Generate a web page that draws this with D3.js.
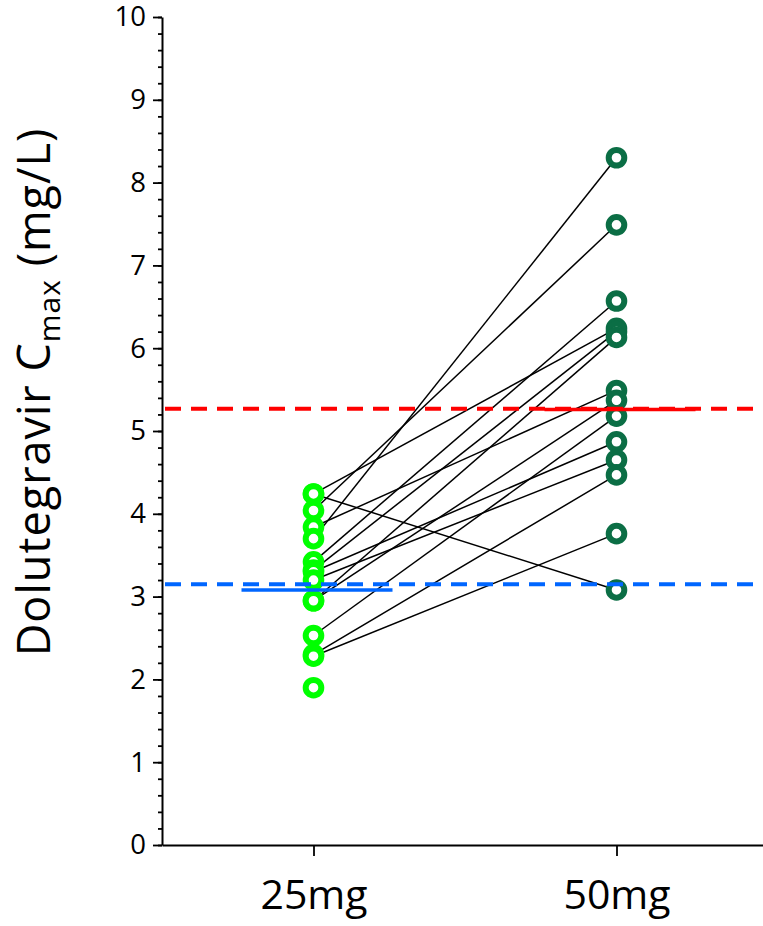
<!DOCTYPE html>
<html>
<head>
<meta charset="utf-8">
<script src="https://cdn.jsdelivr.net/npm/d3@7"></script>
<style>
  body { margin: 0; background: #fff; }
  svg { display: block; font-family: "Open Sans", sans-serif; }
</style>
</head>
<body>
<div id="chart"></div>
<script>
// doses on the x axis
const doses = ["25mg", "50mg"];

// paired Cmax per subject (mg/L); null = no 50mg value
const cmax25 = [4.24, 4.24, 4.04, 3.84, 3.70, 3.42, 3.32, 3.30, 3.20, 2.95, 2.95, 2.53, 2.30, 2.28, 1.90];
const cmax50 = [3.08, 6.24, 7.49, 5.49, 8.30, 6.57, 6.20, 4.87, 4.65, 6.13, 5.37, 5.18, 4.47, 3.76, null];

// short solid lines at each dose, and long dashed reference lines
const meanValues = [3.08, 5.26];
const meanColors = ["#0066ff", "#ff0000"];
const refValues = [3.15, 5.27];

const yTicks = d3.range(0, 11);
const pointColors = ["#00ff00", "#0b6e45"];

const width = 763;
const height = 926;
const margin = {top: 17, left: 162, right: 0, bottom: 81};

const svg = d3.select("#chart")
  .append("svg")
  .attr("width", width)
  .attr("height", height);

/* scales */
const x = d3.scalePoint()
  .domain(doses)
  .range([margin.left, 768])
  .padding(0.5);

const y = d3.scaleLinear()
  .domain([0, 10])
  .range([height - margin.bottom, margin.top]);

/* connecting lines */
const pairs = cmax25.map((v, i) => ({a: v, b: cmax50[i]}));

svg.append("g")
  .selectAll("line")
  .data(pairs.filter(d => d.b !== null))
  .enter()
  .append("line")
  .attr("x1", x("25mg"))
  .attr("y1", d => y(d.a))
  .attr("x2", x("50mg"))
  .attr("y2", d => y(d.b))
  .attr("stroke", "#000")
  .attr("stroke-width", 1.5);

/* points */
const pts = [];
cmax25.forEach(v => pts.push({dose: "25mg", v: v}));
cmax50.forEach(v => { if (v !== null) pts.push({dose: "50mg", v: v}); });

svg.append("g")
  .selectAll("circle")
  .data(pts)
  .enter()
  .append("circle")
  .attr("cx", d => x(d.dose))
  .attr("cy", d => y(d.v))
  .attr("r", 7.8)
  .attr("fill", "#fff")
  .attr("stroke", d => d.dose === "25mg" ? pointColors[0] : pointColors[1])
  .attr("stroke-width", 6);

/* dashed reference lines */
svg.append("g")
  .selectAll("line")
  .data(refValues)
  .enter()
  .append("line")
  .attr("x1", margin.left + 3)
  .attr("x2", width)
  .attr("y1", d => y(d))
  .attr("y2", d => y(d))
  .attr("stroke", (d, i) => meanColors[i])
  .attr("stroke-width", 4)
  .attr("stroke-dasharray", "16,10");

/* solid mean lines */
svg.append("g")
  .selectAll("line")
  .data(meanValues)
  .enter()
  .append("line")
  .attr("x1", (d, i) => x(doses[i]) - 72)
  .attr("x2", (d, i) => x(doses[i]) + 79)
  .attr("y1", d => y(d))
  .attr("y2", d => y(d))
  .attr("stroke", (d, i) => meanColors[i])
  .attr("stroke-width", 3.5);

/* axes */
const yMinor = svg.append("g")
  .attr("transform", `translate(${margin.left},0)`)
  .call(d3.axisLeft(y).tickValues(d3.range(0, 10.01, 0.2)).tickSize(4).tickSizeOuter(0).tickFormat(""));
yMinor.select(".domain").remove();
yMinor.selectAll("line").attr("stroke-width", 1.8);

const yAxis = svg.append("g")
  .attr("transform", `translate(${margin.left},0)`)
  .call(d3.axisLeft(y).tickValues(yTicks).tickSize(9).tickSizeOuter(0).tickPadding(7));
yAxis.selectAll("text").attr("font-size", 27.5).attr("font-family", "Open Sans");
yAxis.selectAll("line").attr("stroke-width", 1.8);
yAxis.select(".domain").attr("stroke-width", 2);

const xAxis = svg.append("g")
  .attr("transform", `translate(0,${height - margin.bottom})`)
  .call(d3.axisBottom(x).tickSize(11).tickSizeOuter(0).tickPadding(24));
xAxis.selectAll("text").attr("font-size", 41).attr("font-family", "Open Sans");
xAxis.selectAll("line").attr("stroke-width", 1.8);
xAxis.select(".domain").attr("stroke-width", 2);

/* y axis title */
const title = svg.append("text")
  .attr("transform", "translate(50,392) rotate(-90)")
  .attr("text-anchor", "middle")
  .attr("font-size", 45)
  .attr("letter-spacing", 1)
  .attr("fill", "#000");
title.append("tspan").text("Dolutegravir C");
title.append("tspan").attr("font-size", 30).attr("dy", 10).text("max");
title.append("tspan").attr("dy", -10).text(" (mg/L)");
</script>
</body>
</html>
